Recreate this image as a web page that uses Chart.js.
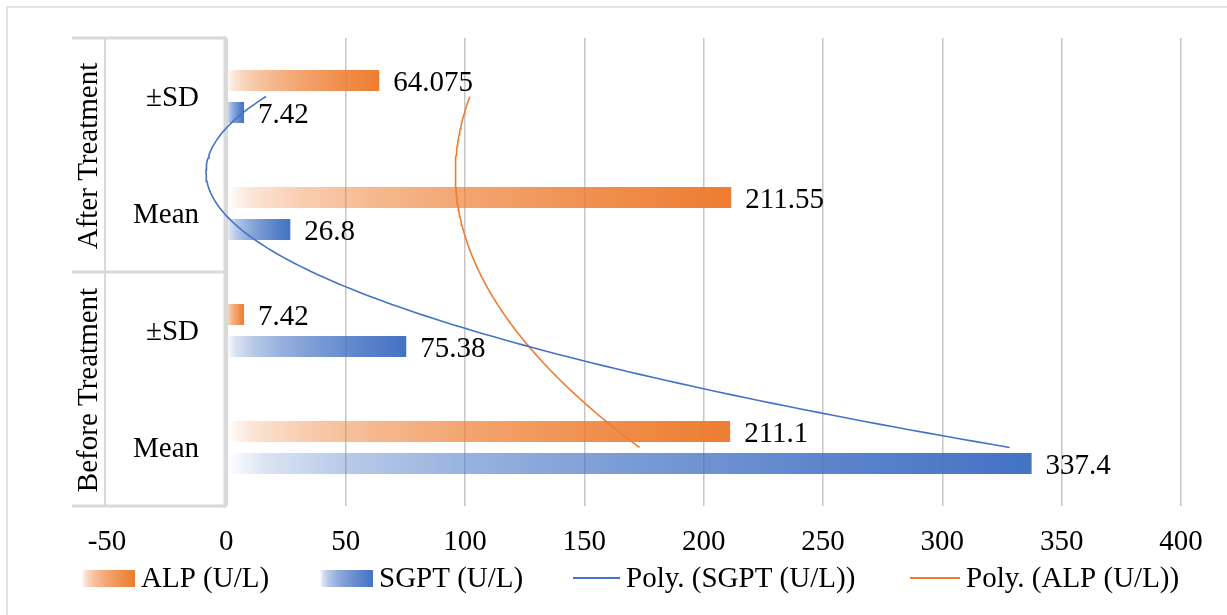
<!DOCTYPE html>
<html>
<head>
<meta charset="utf-8">
<title>ALP and SGPT before and after treatment</title>
<script src="https://cdn.jsdelivr.net/npm/chart.js@4.4.1/dist/chart.umd.min.js"></script>
<style>
  html, body { margin: 0; padding: 0; background: #ffffff; }
  #wrap { width: 1227px; height: 615px; position: relative; }
</style>
</head>
<body>
<div id="wrap"><canvas id="chart" width="1227" height="615"></canvas></div>
<script>
// ---- data (rows listed top to bottom) ----
const groups = ['After Treatment', 'Before Treatment'];
const categories = ['±SD', 'Mean', '±SD', 'Mean'];
const categoryGroup = [0, 0, 1, 1];
const alpValues = [64.075, 211.55, 7.42, 211.1];
const sgptValues = [7.42, 26.8, 75.38, 337.4];
const xTicks = [-50, 0, 50, 100, 150, 200, 250, 300, 350, 400];
const seriesNames = ['ALP (U/L)', 'SGPT (U/L)', 'Poly. (SGPT (U/L))', 'Poly. (ALP (U/L))'];

// ---- styling ----
const ORANGE = [237, 125, 49];
const BLUE = [68, 114, 196];
const FONT_FAMILY = '"Liberation Serif", "Times New Roman", serif';
const FONT_SIZE = 29;
const TEXT = '#000000';
const rgba = (c, a) => `rgba(${c[0]},${c[1]},${c[2]},${a})`;
const GRADIENT_STOPS = [[0, 0.0], [0.05, 0.2], [0.15, 0.38], [0.3, 0.55], [0.5, 0.71], [0.75, 0.87], [1, 1]];

function addStops(g, col) {
  GRADIENT_STOPS.forEach(([p, a]) => g.addColorStop(p, rgba(col, a)));
  return g;
}

// Bars fade in from the zero line to full colour at their end
function barFill(col) {
  return (ctx) => {
    const chart = ctx.chart;
    const xs = chart.scales && chart.scales.x;
    if (ctx.type !== 'data' || !xs || !isFinite(xs.getPixelForValue(0))) return rgba(col, 1);
    const x0 = xs.getPixelForValue(0);
    const x1 = xs.getPixelForValue(ctx.raw);
    if (Math.abs(x1 - x0) < 1) return rgba(col, 1);
    return addStops(chart.ctx.createLinearGradient(x0, 0, x1, 0), col);
  };
}

// Second-order least-squares trendline over category positions (bottom row = 1)
function fitQuadratic(xs, ys) {
  const S = [0, 0, 0, 0, 0], T = [0, 0, 0];
  xs.forEach((x, i) => {
    for (let k = 0; k < 5; k++) S[k] += Math.pow(x, k);
    for (let k = 0; k < 3; k++) T[k] += ys[i] * Math.pow(x, k);
  });
  const A = [[S[0], S[1], S[2], T[0]], [S[1], S[2], S[3], T[1]], [S[2], S[3], S[4], T[2]]];
  for (let i = 0; i < 3; i++) {
    for (let j = i + 1; j < 3; j++) {
      const f = A[j][i] / A[i][i];
      for (let k = i; k < 4; k++) A[j][k] -= f * A[i][k];
    }
  }
  const c = [0, 0, 0];
  for (let i = 2; i >= 0; i--) {
    let s = A[i][3];
    for (let k = i + 1; k < 3; k++) s -= A[i][k] * c[k];
    c[i] = s / A[i][i];
  }
  return c;
}

const catPos = categories.map((_, j) => categories.length - j);
function trendPoints(values) {
  const c = fitQuadratic(catPos, values);
  const lo = Math.min(...catPos), hi = Math.max(...catPos);
  const pts = [];
  const steps = 120;
  for (let s = 0; s <= steps; s++) {
    const p = lo + (hi - lo) * s / steps;
    pts.push({ x: c[0] + c[1] * p + c[2] * p * p, y: p });
  }
  return pts;
}

const font = { family: FONT_FAMILY, size: FONT_SIZE };
const fontStr = `${FONT_SIZE}px ${FONT_FAMILY}`;
const LINE_GRAY = '#d9d9d9';

// Grouped category labels, value labels, legend and outer frame
const decor = {
  id: 'decor',
  beforeDatasetsDraw(chart) {
    const { ctx, chartArea, scales } = chart;
    const y = scales.y;
    const top = chartArea.top, bottom = chartArea.bottom;
    const boxLeft = 72, sepX = 105, boxRight = 225;
    ctx.save();
    ctx.strokeStyle = LINE_GRAY;
    const splits = [top];
    for (let i = 1; i < categories.length; i++) {
      if (categoryGroup[i] !== categoryGroup[i - 1]) {
        splits.push((y.getPixelForValue(i - 1) + y.getPixelForValue(i)) / 2);
      }
    }
    splits.push(bottom);
    ctx.lineWidth = 3;
    splits.forEach(yy => {
      ctx.beginPath(); ctx.moveTo(boxLeft, yy); ctx.lineTo(boxRight + 1.5, yy); ctx.stroke();
    });
    ctx.lineWidth = 2;
    ctx.beginPath(); ctx.moveTo(sepX, top); ctx.lineTo(sepX, bottom); ctx.stroke();
    ctx.lineWidth = 3;
    ctx.beginPath(); ctx.moveTo(boxRight, top - 1.5); ctx.lineTo(boxRight, bottom + 1.5); ctx.stroke();

    ctx.fillStyle = TEXT;
    ctx.font = fontStr;
    ctx.textAlign = 'right';
    ctx.textBaseline = 'middle';
    categories.forEach((c, i) => ctx.fillText(c, 199, y.getPixelForValue(i) + 2));

    groups.forEach((g, gi) => {
      const a = splits[gi], b = splits[gi + 1];
      ctx.save();
      ctx.translate(89, (a + b) / 2 + 1);
      ctx.rotate(-Math.PI / 2);
      ctx.textAlign = 'center';
      ctx.textBaseline = 'middle';
      ctx.fillText(g, 0, 0);
      ctx.restore();
    });
    ctx.restore();
  },
  afterDatasetsDraw(chart) {
    const { ctx } = chart;
    ctx.save();
    ctx.fillStyle = TEXT;
    ctx.font = fontStr;
    ctx.textAlign = 'left';
    ctx.textBaseline = 'middle';
    [0, 1].forEach(di => {
      const meta = chart.getDatasetMeta(di);
      const vals = chart.data.datasets[di].data;
      meta.data.forEach((el, j) => {
        ctx.fillText(String(vals[j]), el.x + 14, el.y + 3);
      });
    });
    ctx.restore();
  },
  afterDraw(chart) {
    const { ctx } = chart;
    ctx.save();
    const ly = 578;
    const items = [
      { x: 82, w: 53, kind: 'box', col: ORANGE, text: seriesNames[0] },
      { x: 320, w: 53, kind: 'box', col: BLUE, text: seriesNames[1] },
      { x: 573, w: 47, kind: 'line', col: BLUE, text: seriesNames[2] },
      { x: 910, w: 50, kind: 'line', col: ORANGE, text: seriesNames[3] }
    ];
    ctx.font = fontStr;
    ctx.textAlign = 'left';
    ctx.textBaseline = 'middle';
    items.forEach(it => {
      if (it.kind === 'box') {
        ctx.fillStyle = addStops(ctx.createLinearGradient(it.x, 0, it.x + it.w, 0), it.col);
        ctx.fillRect(it.x, ly - 8, it.w, 17);
      } else {
        ctx.strokeStyle = rgba(it.col, 1);
        ctx.lineWidth = 1.8;
        ctx.beginPath(); ctx.moveTo(it.x, ly); ctx.lineTo(it.x + it.w, ly); ctx.stroke();
      }
      ctx.fillStyle = TEXT;
      ctx.fillText(it.text, it.x + it.w + 6, ly + 1);
    });
    ctx.strokeStyle = LINE_GRAY;
    ctx.lineWidth = 1.5;
    ctx.beginPath();
    ctx.moveTo(7, chart.height + 2); ctx.lineTo(7, 7); ctx.lineTo(chart.width + 2, 7);
    ctx.stroke();
    ctx.restore();
  }
};

const barCommon = { indexAxis: 'y', yAxisID: 'y', xAxisID: 'x', categoryPercentage: 0.548, barPercentage: 0.656, borderWidth: 0, order: 1 };
const lineCommon = { type: 'line', indexAxis: 'x', yAxisID: 'yt', xAxisID: 'x', pointRadius: 0, pointHoverRadius: 0, borderWidth: 1.6, fill: false, tension: 0, order: 0 };

new Chart(document.getElementById('chart'), {
  type: 'bar',
  data: {
    labels: categories.map((c, i) => groups[categoryGroup[i]] + ' ' + c),
    datasets: [
      { ...barCommon, label: seriesNames[0], data: alpValues, backgroundColor: barFill(ORANGE) },
      { ...barCommon, label: seriesNames[1], data: sgptValues, backgroundColor: barFill(BLUE) },
      { ...lineCommon, label: seriesNames[2], data: trendPoints(sgptValues), borderColor: rgba(BLUE, 1) },
      { ...lineCommon, label: seriesNames[3], data: trendPoints(alpValues), borderColor: rgba(ORANGE, 1) }
    ]
  },
  options: {
    responsive: false,
    animation: false,
    layout: { padding: { left: 107, right: 46, top: 38, bottom: 40 } },
    plugins: { legend: { display: false }, tooltip: { enabled: false } },
    scales: {
      x: {
        type: 'linear',
        position: 'bottom',
        min: -50,
        max: 400,
        offset: false,
        afterBuildTicks: s => { s.ticks = xTicks.map(v => ({ value: v })); },
        afterFit: s => { s.height = 69; },
        border: { display: false },
        grid: {
          offset: false,
          drawTicks: false,
          color: c => c.tick && c.tick.value === -50 ? 'rgba(0,0,0,0)' : (c.tick && c.tick.value === 0 ? LINE_GRAY : '#c6c6c6'),
          lineWidth: c => c.tick && c.tick.value === 0 ? 3 : 1.5
        },
        ticks: { font, color: TEXT, padding: 18.5, maxRotation: 0, autoSkip: false, callback: v => String(v) }
      },
      y: { type: 'category', position: 'left', display: false, offset: true, grid: { offset: true } },
      yt: { type: 'linear', display: false, min: 0.5, max: 4.5, position: 'left' }
    }
  },
  plugins: [decor]
});
</script>
</body>
</html>
